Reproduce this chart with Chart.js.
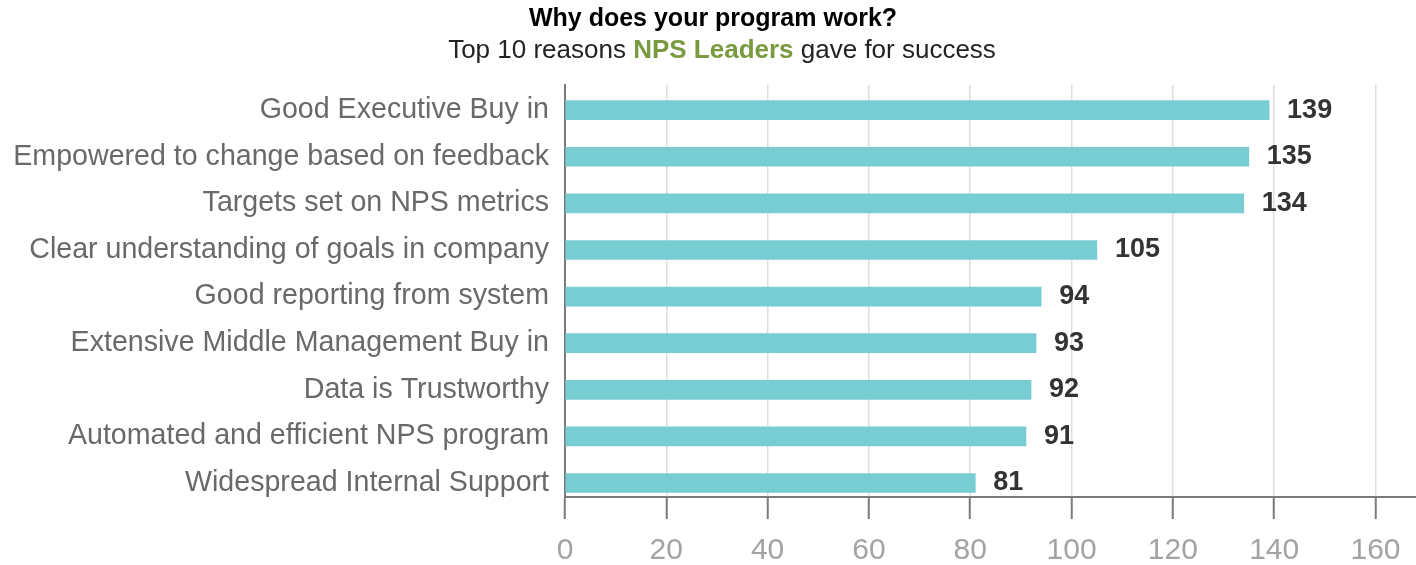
<!DOCTYPE html>
<html>
<head>
<meta charset="utf-8">
<script src="https://cdn.jsdelivr.net/npm/chart.js@4.4.0/dist/chart.umd.min.js"></script>
<style>
  body { margin: 0; background: #fff; }
  #wrap { width: 1416px; height: 565px; position: relative; }
</style>
</head>
<body>
<div id="wrap"><canvas id="myChart"></canvas></div>
<script>
var reasons = [
    'Good Executive Buy in',
    'Empowered to change based on feedback',
    'Targets set on NPS metrics',
    'Clear understanding of goals in company',
    'Good reporting from system',
    'Extensive Middle Management Buy in',
    'Data is Trustworthy',
    'Automated and efficient NPS program',
    'Widespread Internal Support'
]
var counts = [139, 135, 134, 105, 94, 93, 92, 91, 81]

var titleText = 'Why does your program work?'
var subtitleParts = [
    {text: 'Top 10 reasons ', bold: false, color: '#222'},
    {text: 'NPS Leaders', bold: true, color: '#7a9a3f'},
    {text: ' gave for success', bold: false, color: '#222'}
]

var fontName = '"Liberation Sans", Arial, sans-serif'

// rows sit on a numeric axis: row i at y = i
var rows = counts.map(function(v, i) { return {x: v, y: i} })

// heading + mixed-colour subtitle drawn straight onto the canvas
var headingPlugin = {
    id: 'heading',
    afterDraw: function(chart) {
        var ctx = chart.ctx
        ctx.save()
        ctx.textBaseline = 'middle'
        ctx.fillStyle = '#000'
        ctx.font = 'bold 25px ' + fontName
        ctx.textAlign = 'center'
        ctx.fillText(titleText, 713, 19)

        var total = 0
        subtitleParts.forEach(function(p) {
            ctx.font = (p.bold ? 'bold ' : '') + '26px ' + fontName
            p.w = ctx.measureText(p.text).width
            total += p.w
        })
        var x = 722 - total / 2
        ctx.textAlign = 'left'
        subtitleParts.forEach(function(p) {
            ctx.font = (p.bold ? 'bold ' : '') + '26px ' + fontName
            ctx.fillStyle = p.color
            ctx.fillText(p.text, x, 51)
            x += p.w
        })
        ctx.restore()
    }
}

// value next to the end of each bar
var valuePlugin = {
    id: 'barValues',
    afterDatasetsDraw: function(chart) {
        var ctx = chart.ctx
        var meta = chart.getDatasetMeta(0)
        ctx.save()
        ctx.font = 'bold 27px ' + fontName
        ctx.fillStyle = '#333'
        ctx.textAlign = 'left'
        ctx.textBaseline = 'middle'
        meta.data.forEach(function(bar, i) {
            ctx.fillText(counts[i], bar.x + 18, bar.y)
        })
        ctx.restore()
    }
}

var chartField = document.querySelector('#myChart').getContext('2d')

var myChart = new Chart(chartField, {
    type: 'bar',
    data: {
        datasets: [{
            data: rows,
            backgroundColor: '#77cdd2',
            barThickness: 19
        }]
    },
    options: {
        indexAxis: 'y',
        responsive: true,
        maintainAspectRatio: false,
        animation: false,
        layout: {padding: {top: 85, left: 0, right: 0, bottom: 0}},
        plugins: {
            legend: {display: false},
            title: {display: false},
            tooltip: {enabled: false}
        },
        scales: {
            x: {
                min: 0,
                max: 168,
                ticks: {
                    stepSize: 20,
                    includeBounds: false,
                    color: '#a3a3a3',
                    padding: 14,
                    font: {family: fontName, size: 30}
                },
                grid: {
                    color: '#dedede',
                    lineWidth: 1.5,
                    tickColor: '#7a7a7a',
                    tickWidth: 2,
                    tickLength: 22
                },
                border: {color: '#7a7a7a', width: 2},
                afterFit: function(scale) { scale.height = 68 }
            },
            y: {
                type: 'linear',
                reverse: true,
                offset: false,
                min: -0.54,
                max: 8.3,
                ticks: {
                    stepSize: 1,
                    includeBounds: false,
                    color: '#696969',
                    padding: 8,
                    font: {family: fontName, size: 28.6},
                    callback: function(v) { return reasons[v] }
                },
                grid: {display: false, offset: false},
                border: {color: '#7a7a7a', width: 2},
                afterFit: function(scale) { scale.width = 565 }
            }
        }
    },
    plugins: [headingPlugin, valuePlugin]
})
</script>
</body>
</html>
